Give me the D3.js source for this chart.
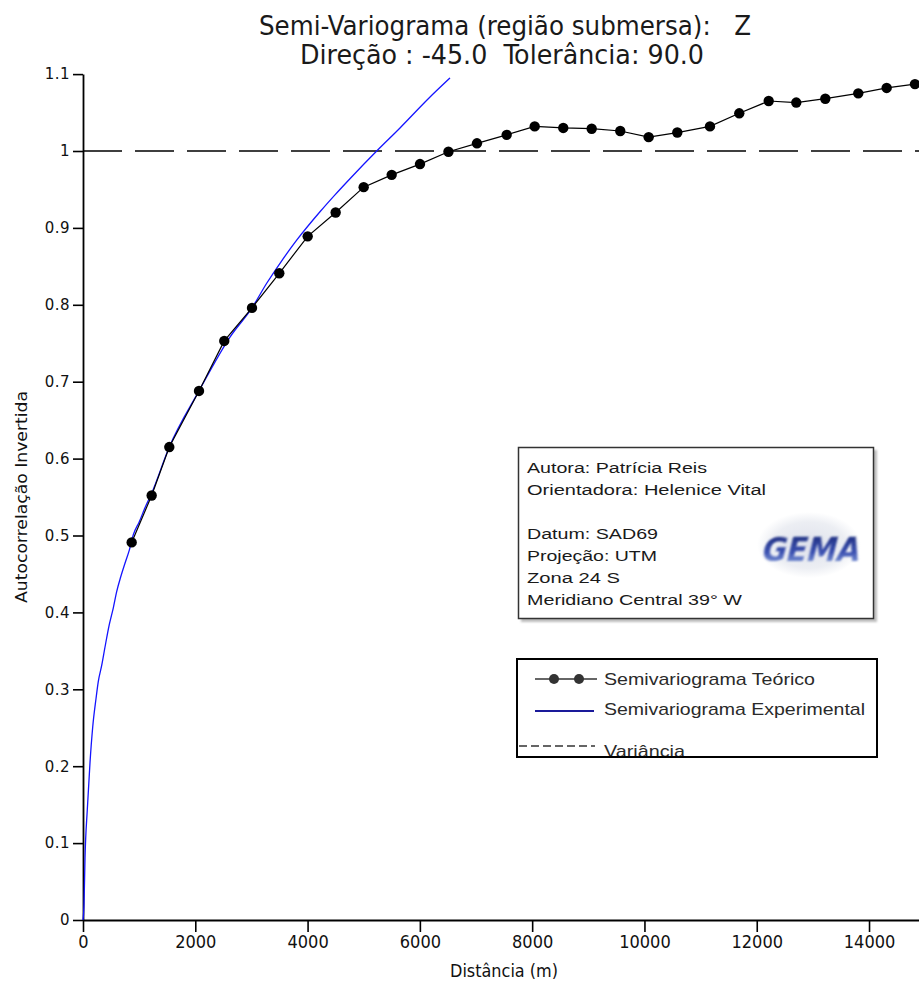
<!DOCTYPE html>
<html>
<head>
<meta charset="utf-8">
<script src="https://cdn.jsdelivr.net/npm/d3@7"></script>
<style>
	body{margin:0;background:#fff;}
	svg{display:block;}
</style>
</head>
<body>
<div id="v1"></div>
<script>
// semivariograma teorico (pontos pretos)
var teoricoDist = [867,1223,1537,2066,2516,3010,3496,4002,4500,4999,5498,6002,6509,7017,7546,8045,8554,9060,9569,10075,10585,11167,11689,12213,12704,13221,13808,14314,14818];
var teoricoVal = [0.491,0.552,0.615,0.688,0.753,0.796,0.841,0.889,0.920,0.953,0.969,0.983,0.999,1.010,1.021,1.032,1.030,1.029,1.026,1.018,1.024,1.032,1.049,1.065,1.063,1.068,1.075,1.082,1.087];

// semivariograma experimental (curva azul)
var expDist = [0,18,36,77,125,173,232,272,333,392,468,540,600,671,748,825,896,1003,1104,1223,1537,2066,2618,3010,3272,3509,3806,4221,4488,4755,5231,5646,6150,6537];
var expVal = [0,0.020,0.081,0.144,0.205,0.251,0.288,0.310,0.331,0.355,0.384,0.406,0.427,0.446,0.464,0.481,0.501,0.518,0.536,0.555,0.615,0.688,0.758,0.796,0.828,0.854,0.884,0.921,0.943,0.964,1.000,1.030,1.068,1.095];

var variancia = 1;

var xTicks = [0,2000,4000,6000,8000,10000,12000,14000];
var yTicks = [0,0.1,0.2,0.3,0.4,0.5,0.6,0.7,0.8,0.9,1,1.1];
var yTickLabels = ["0","0.1","0.2","0.3","0.4","0.5","0.6","0.7","0.8","0.9","1","1.1"];

var titulo = ["Semi-Variograma (região submersa):   Z", "Direção : -45.0  Tolerância: 90.0"];
var infoLines = ["Autora: Patrícia Reis","Orientadora: Helenice Vital","","Datum: SAD69","Projeção: UTM","Zona 24 S","Meridiano Central 39° W"];
var legendNames = ["Semivariograma Teórico","Semivariograma Experimental","Variância"];

var svg = d3.select("#v1").append("svg")
	.attr("width", 919)
	.attr("height", 988);

var x = d3.scaleLinear()
	.domain([0, 14890])
	.range([83, 919]);

var y = d3.scaleLinear()
	.domain([0, 1.1])
	.range([920, 74.1]);

// titulo
var tw = [492, 404];
svg.selectAll(".titulo")
	.data(titulo)
	.enter()
	.append("text")
	.attr("class", "titulo")
	.attr("x", function(d, i){ return i === 0 ? 259 : 300; })
	.attr("y", function(d, i){ return i === 0 ? 35 : 64; })
	.attr("textLength", function(d, i){ return tw[i]; })
	.attr("lengthAdjust", "spacingAndGlyphs")
	.style("white-space", "pre")
	.style("font-family", "'DejaVu Sans Condensed', 'DejaVu Sans'")
	.style("font-stretch", "condensed")
	.style("font-size", "26px")
	.style("fill", "#1a1a1a")
	.text(function(d){ return d; });

// linha da variancia
svg.append("line")
	.attr("x1", x(0))
	.attr("x2", 919)
	.attr("y1", y(variancia))
	.attr("y2", y(variancia))
	.attr("stroke", "black")
	.attr("stroke-width", 1.6)
	.attr("stroke-dasharray", "39,13");

// eixos
var xAxis = d3.axisBottom(x)
	.tickValues(xTicks)
	.tickSize(12)
	.tickSizeOuter(0)
	.tickFormat(function(d){ return d; });

var yAxis = d3.axisLeft(y)
	.tickValues(yTicks)
	.tickSize(10)
	.tickSizeOuter(0)
	.tickFormat(function(d, i){ return yTickLabels[i]; });

var gx = svg.append("g")
	.attr("transform", "translate(0," + y(0) + ")")
	.call(xAxis);

gx.select(".domain").attr("stroke-width", 1.8);
gx.selectAll(".tick line").attr("stroke-width", 1.6);
gx.selectAll(".tick text")
	.attr("y", 15)
	.style("font-family", "'DejaVu Sans Condensed', 'DejaVu Sans'")
	.style("font-stretch", "condensed")
	.style("font-size", "18px")
	.style("fill", "#111");

var gy = svg.append("g")
	.attr("transform", "translate(" + x(0) + ",0)")
	.call(yAxis);

gy.select(".domain").attr("stroke-width", 1.8);
gy.selectAll(".tick line").attr("stroke-width", 1.6);
gy.selectAll(".tick text")
	.attr("x", -13)
	.style("font-family", "'DejaVu Sans'")
	.style("font-size", "15px")
	.style("letter-spacing", "0.5px")
	.style("fill", "#111");

// rotulos dos eixos
svg.append("text")
	.attr("x", 504)
	.attr("y", 977)
	.attr("text-anchor", "middle")
	.attr("textLength", 108)
	.attr("lengthAdjust", "spacingAndGlyphs")
	.style("font-family", "'DejaVu Sans Condensed', 'DejaVu Sans'")
	.style("font-stretch", "condensed")
	.style("font-size", "18px")
	.style("fill", "#111")
	.text("Distância (m)");

svg.append("text")
	.attr("transform", "translate(27,497) rotate(-90)")
	.attr("text-anchor", "middle")
	.attr("textLength", 212)
	.attr("lengthAdjust", "spacingAndGlyphs")
	.style("font-family", "'DejaVu Sans Condensed', 'DejaVu Sans'")
	.style("font-stretch", "condensed")
	.style("font-size", "16px")
	.style("fill", "#111")
	.text("Autocorrelação Invertida");

// curva experimental
var expData = expDist.map(function(d, i){ return [d, expVal[i]]; });
var line1 = d3.line()
	.x(function(d){ return x(d[0]); })
	.y(function(d){ return y(d[1]); })
	.curve(d3.curveMonotoneX);

svg.append("path")
	.datum(expData)
	.attr("d", line1)
	.attr("fill", "none")
	.attr("stroke", "#1414ff")
	.attr("stroke-width", 1.3);

// teorico: linha + pontos
var teoData = teoricoDist.map(function(d, i){ return [d, teoricoVal[i]]; });
var line2 = d3.line()
	.x(function(d){ return x(d[0]); })
	.y(function(d){ return y(d[1]); });

svg.append("path")
	.datum(teoData)
	.attr("d", line2)
	.attr("fill", "none")
	.attr("stroke", "black")
	.attr("stroke-width", 1.2);

svg.selectAll(".ponto")
	.data(teoData)
	.enter()
	.append("circle")
	.attr("class", "ponto")
	.attr("cx", function(d){ return x(d[0]); })
	.attr("cy", function(d){ return y(d[1]); })
	.attr("r", 5.2)
	.attr("fill", "black");

// caixa de informacoes
var defs = svg.append("defs");
var sombra = defs.append("filter").attr("id", "blur1");
sombra.append("feGaussianBlur").attr("stdDeviation", 1);

svg.append("rect")
	.attr("x", 521).attr("y", 450)
	.attr("width", 356).attr("height", 172)
	.attr("fill", "#bdbdbd")
	.attr("filter", "url(#blur1)");

svg.append("rect")
	.attr("x", 518.5).attr("y", 447.5)
	.attr("width", 355).attr("height", 171)
	.attr("fill", "white")
	.attr("stroke", "#333")
	.attr("stroke-width", 1.5);

var infoLen = [180, 239, 0, 131, 130, 93, 215];
var infoY = [473, 495, 0, 539, 561, 583, 605];
svg.selectAll(".info")
	.data(infoLines.filter(function(d){ return d !== ""; }))
	.enter()
	.append("text")
	.attr("class", "info")
	.attr("x", 527)
	.attr("y", function(d){ return infoY[infoLines.indexOf(d)]; })
	.attr("textLength", function(d){ return infoLen[infoLines.indexOf(d)]; })
	.attr("lengthAdjust", "spacingAndGlyphs")
	.style("font-family", "'Liberation Sans', Arial")
	.style("font-size", "15.5px")
	.style("fill", "#1a1a1a")
	.text(function(d){ return d; });

// logo
var grad = defs.append("radialGradient").attr("id", "logoBg");
grad.append("stop").attr("offset", "0%").attr("stop-color", "#dfe2ec");
grad.append("stop").attr("offset", "70%").attr("stop-color", "#eceef3");
grad.append("stop").attr("offset", "100%").attr("stop-color", "#ffffff");
var grad2 = defs.append("linearGradient").attr("id", "logoTx")
	.attr("x1", 0).attr("x2", 0).attr("y1", 0).attr("y2", 1);
grad2.append("stop").attr("offset", "0%").attr("stop-color", "#1b2a78");
grad2.append("stop").attr("offset", "55%").attr("stop-color", "#3a4fb0");
grad2.append("stop").attr("offset", "100%").attr("stop-color", "#9db8e8");
var blur2 = defs.append("filter").attr("id", "blur2");
blur2.append("feGaussianBlur").attr("stdDeviation", 0.8);

svg.append("rect")
	.attr("x", 757).attr("y", 512)
	.attr("width", 104).attr("height", 66)
	.attr("fill", "url(#logoBg)");
svg.append("text")
	.attr("transform", "translate(809,561) skewX(-14)")
	.attr("text-anchor", "middle")
	.attr("textLength", 98)
	.attr("lengthAdjust", "spacingAndGlyphs")
	.attr("filter", "url(#blur2)")
	.style("font-family", "'DejaVu Sans'")
	.style("font-weight", "bold")
	.style("font-size", "32px")
	.style("fill", "url(#logoTx)")
	.text("GEMA");

// legenda
var clip = defs.append("clipPath").attr("id", "legClip");
clip.append("rect").attr("x", 517).attr("y", 659).attr("width", 360).attr("height", 97);

svg.append("rect")
	.attr("x", 517).attr("y", 659)
	.attr("width", 360).attr("height", 98)
	.attr("fill", "white");

var legY = [679, 711, 746];
var legTxY = [685, 715, 757];
var legLen = [211, 261, 81];
var leg = svg.append("g").attr("clip-path", "url(#legClip)");

leg.selectAll(".legtx")
	.data(legendNames)
	.enter()
	.append("text")
	.attr("class", "legtx")
	.attr("x", 604)
	.attr("y", function(d, i){ return legTxY[i]; })
	.attr("textLength", function(d, i){ return legLen[i]; })
	.attr("lengthAdjust", "spacingAndGlyphs")
	.style("font-family", "'Liberation Sans', Arial")
	.style("font-size", "17px")
	.style("fill", "#2a2a2a")
	.text(function(d){ return d; });

leg.append("line")
	.attr("x1", 535).attr("x2", 597)
	.attr("y1", legY[0]).attr("y2", legY[0])
	.attr("stroke", "#333").attr("stroke-width", 1.5);
leg.selectAll(".legpt")
	.data([554, 579])
	.enter()
	.append("circle")
	.attr("class", "legpt")
	.attr("cx", function(d){ return d; })
	.attr("cy", legY[0])
	.attr("r", 5)
	.attr("fill", "#333");
leg.append("line")
	.attr("x1", 535).attr("x2", 594)
	.attr("y1", legY[1]).attr("y2", legY[1])
	.attr("stroke", "#1a1a9a").attr("stroke-width", 2);
leg.append("line")
	.attr("x1", 519).attr("x2", 595)
	.attr("y1", legY[2]).attr("y2", legY[2])
	.attr("stroke", "#333").attr("stroke-width", 1.5)
	.attr("stroke-dasharray", "8,4");

svg.append("rect")
	.attr("x", 517).attr("y", 659)
	.attr("width", 360).attr("height", 98)
	.attr("fill", "none")
	.attr("stroke", "black")
	.attr("stroke-width", 2);
</script>
</body>
</html>
